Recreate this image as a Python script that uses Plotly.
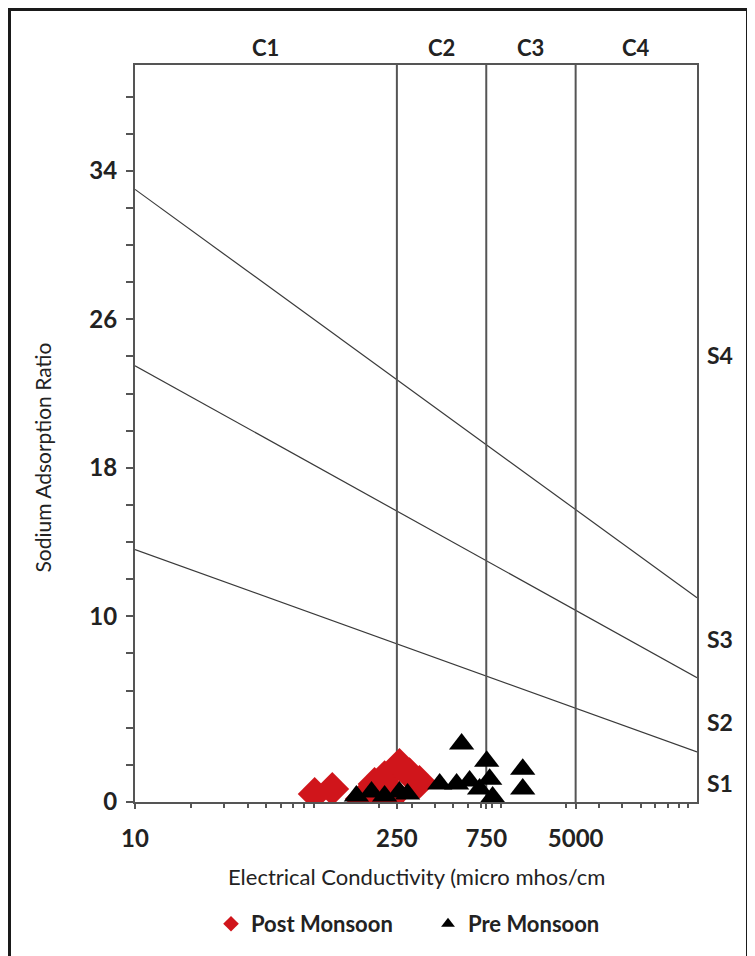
import numpy as np
import plotly.graph_objects as go

# ---- data ----
post_ec = [91, 113, 162, 190, 215, 223, 258, 292, 330, 243]
post_sar = [0.43, 0.70, 0.16, 0.97, 1.34, 0.05, 2.00, 1.50, 1.08, 0.43]

pre_ec = [152, 183, 215, 258, 285, 423, 521, 611, 691, 754, 782, 811, 554, 1174, 1174]
pre_sar = [0.32, 0.54, 0.32, 0.54, 0.43, 0.97, 0.97, 1.13, 0.70, 2.20, 1.23, 0.27, 3.12, 1.77, 0.70]

# salinity class boundaries (EC) and labels
c_bounds = [10, 250, 750, 2250, 10000]
c_labels = ["C1", "C2", "C3", "C4"]

# sodium hazard boundary lines (SAR at EC=10 and EC=10000)
line_ec = [10, 10000]
s_lines = [[33.0, 11.0], [23.5, 6.7], [13.6, 2.7]]
s_labels = ["S4", "S3", "S2", "S1"]
s_label_y = [24.1, 8.8, 4.3, 1.0]

x_tickvals = [10, 250, 750, 2250]
x_ticktext = ["10", "250", "750", "5000"]
y_tickvals = [0, 10, 18, 26, 34]

FONT = "Lato"
LINE = "#555555"
TXT = "#222222"

W, H = 741, 948
L, R, T, B = 127, 52, 57, 153
PW, PH = W - L - R, H - T - B


def px(xp):
    return (xp - L) / PW


def py(yp):
    return (H - B - yp) / PH


fig = go.Figure()

for s in s_lines:
    fig.add_trace(go.Scatter(x=line_ec, y=s, mode="lines",
                             line=dict(color="#3a3a3a", width=1.2),
                             showlegend=False, hoverinfo="skip"))

for b in c_bounds[1:-1]:
    fig.add_trace(go.Scatter(x=[b, b], y=[0, 39.7], mode="lines",
                             line=dict(color=LINE, width=2),
                             showlegend=False, hoverinfo="skip"))

fig.add_trace(go.Scatter(x=post_ec, y=post_sar, mode="markers", name="Post Monsoon",
                         marker=dict(symbol="diamond", size=26, color="#d0151b",
                                     line=dict(width=0))))
fig.add_trace(go.Scatter(x=pre_ec, y=pre_sar, mode="markers", name="Pre Monsoon",
                         marker=dict(symbol="triangle-up", size=22, color="#000000",
                                     line=dict(width=0))))

minor_x = [m * 10 ** d for d in range(1, 4) for m in range(2, 10)]

fig.update_xaxes(type="log", range=[1, 4], tickvals=x_tickvals, ticktext=x_ticktext,
                 showgrid=False, zeroline=False, showline=True, linecolor=LINE,
                 linewidth=2, mirror=True, ticks="outside", ticklen=5, tickcolor=LINE,
                 tickwidth=1.5, ticklabelstandoff=9,
                 minor=dict(tickvals=minor_x, ticks="outside", ticklen=4,
                            tickcolor=LINE, tickwidth=1.5, showgrid=False),
                 tickfont=dict(family=FONT, size=24, color=TXT, weight="bold"))
fig.update_yaxes(range=[0, 39.7], tickvals=y_tickvals, showgrid=False, zeroline=False,
                 showline=True, linecolor=LINE, linewidth=2, mirror=True,
                 ticks="outside", ticklen=7, tickcolor=LINE, tickwidth=1.5,
                 ticklabelstandoff=4,
                 minor=dict(tick0=0, dtick=2, ticks="outside", ticklen=7,
                            tickcolor=LINE, tickwidth=1.5, showgrid=False),
                 tickfont=dict(family=FONT, size=24, color=TXT, weight="bold"))

ann = []
for i, lab in enumerate(c_labels):
    mid = (np.log10(c_bounds[i]) + np.log10(c_bounds[i + 1])) / 2
    ann.append(dict(x=mid, xref="x", xanchor="center", y=1, yref="paper",
                    yanchor="bottom", yshift=2, text=lab, showarrow=False,
                    font=dict(family=FONT, size=22, color=TXT, weight="bold")))
for lab, yv in zip(s_labels, s_label_y):
    ann.append(dict(x=px(697), xref="paper", xanchor="left", y=yv, yref="y",
                    yanchor="middle", text=lab, showarrow=False,
                    font=dict(family=FONT, size=23, color=TXT, weight="bold")))
ann.append(dict(x=px(34), xref="paper", xanchor="center", y=py(450), yref="paper",
                yanchor="middle", textangle=-90,
                text="Sodium Adsorption Ratio", showarrow=False,
                font=dict(family=FONT, size=21, color=TXT)))
ann.append(dict(x=px(408), xref="paper", xanchor="center", y=py(870), yref="paper",
                yanchor="middle",
                text="Electrical Conductivity (micro mhos/cm", showarrow=False,
                font=dict(family=FONT, size=22, color=TXT)))

fig.update_layout(
    width=W, height=H,
    margin=dict(l=L, r=R, t=T, b=B),
    paper_bgcolor="white", plot_bgcolor="white",
    annotations=ann,
    legend=dict(orientation="h", x=px(420), xanchor="center", y=py(916), yanchor="middle",
                font=dict(family=FONT, size=22, color=TXT, weight="bold"),
                itemsizing="constant", itemwidth=30,
                entrywidth=172, entrywidthmode="pixels"),
    shapes=[dict(type="rect", xref="paper", yref="paper",
                 x0=px(1.5), x1=px(W - 1.5), y0=py(H + 10), y1=py(1.5),
                 line=dict(color="#1a1a1a", width=3))],
)

fig.write_html("out.html")
